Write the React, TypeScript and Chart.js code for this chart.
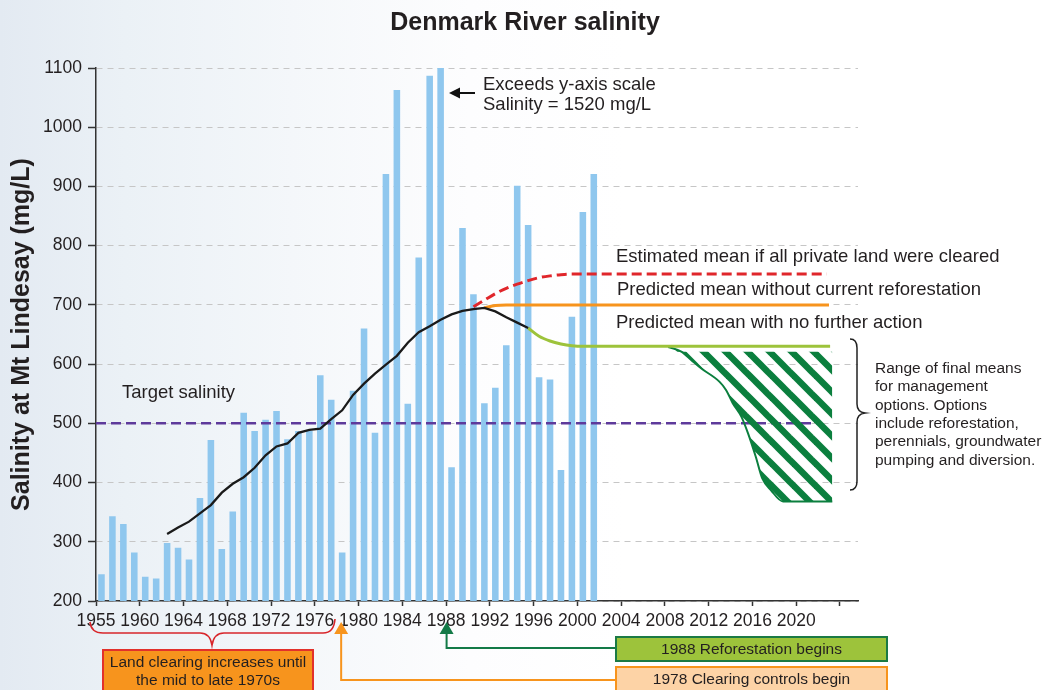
import React, { useEffect, useRef } from 'react';
import { Chart, registerables } from 'chart.js';

Chart.register(...registerables);

const FONT = "'Liberation Sans', Arial, Helvetica, sans-serif";

const chartTitle = 'Denmark River salinity';
const yAxisTitle = 'Salinity at Mt Lindesay (mg/L)';

// Annual salinity (mg/L), one bar per year
const barYears = [
  1956, 1957, 1958, 1959, 1960, 1961, 1962, 1963, 1964, 1965, 1966, 1967, 1968, 1969, 1970, 1971,
  1972, 1973, 1974, 1975, 1976, 1977, 1978, 1979, 1980, 1981, 1982, 1983, 1984, 1985, 1986, 1987,
  1988, 1989, 1990, 1991, 1992, 1993, 1994, 1995, 1996, 1997, 1998, 1999, 2000, 2001,
];
const salinityValues = [
  245, 343, 330, 282, 241, 238, 298, 290, 270, 374, 472, 288, 351, 518, 487, 506,
  521, 473, 487, 487, 581, 540, 282, 555, 660, 484, 921, 1063, 533, 780, 1087, 1520,
  426, 830, 718, 534, 560, 632, 901, 835, 578, 574, 421, 680, 857, 921,
];

// Running mean (black line)
const trendYears = [
  1962, 1963, 1964, 1965, 1966, 1967, 1968, 1969, 1970, 1971, 1972, 1973, 1974, 1975, 1976, 1977,
  1978, 1979, 1980, 1981, 1982, 1983, 1984, 1985, 1986, 1987, 1988, 1989, 1990, 1991, 1992, 1993,
  1994, 1995,
];
const trendValues = [
  313, 324, 334, 348, 362, 383, 398, 409, 425, 446, 461, 466, 484, 489, 491, 507,
  522, 548, 567, 584, 599, 614, 636, 654, 664, 675, 684, 690, 693, 695, 689, 679,
  670, 661,
];

// Estimated mean if all private land were cleared (red dashed)
const clearedYears = [1990, 1991, 1992, 1993, 1994, 1995, 1996, 1997, 1998, 1999, 2000, 2022.3];
const clearedValues = [697, 708, 719, 728, 735, 741, 746, 749, 751, 752, 752, 752];

// Predicted mean without current reforestation (orange)
const noReforestYears = [1991, 1992, 1993, 1994, 2022.5];
const noReforestValues = [695, 699, 700, 700, 700];

// Predicted mean with no further action (light green)
const noActionYears = [1995, 1996, 1997, 1998, 1999, 2000, 2022.6];
const noActionValues = [661, 647, 639, 634, 631, 630, 630];

// Target salinity (purple dashed)
const targetYears = [1955.5, 2021.8];
const targetValues = [500, 500];

// Range of final means for management options (hatched area outline)
const rangeYears = [2007.8, 2009.0, 2009.9, 2010.8, 2012.5, 2013.1, 2013.7, 2014.5, 2015.1, 2015.8, 2016.4, 2017.2, 2018.3, 2022.8];
const rangeValues = [629, 621, 607, 593, 570, 556, 534, 511, 483, 444, 407, 387, 368, 368];

// X axis ticks and their labels
const xTickYears = [1956, 1960, 1964, 1968, 1972, 1976, 1980, 1984, 1988, 1992, 1996, 2000, 2004, 2008, 2012, 2016, 2020, 2024];
const xTickLabels = ['1955', '1960', '1964', '1968', '1972', '1976', '1980', '1984', '1988', '1992', '1996', '2000', '2004', '2008', '2012', '2016', '2020', ''];

const rangeNoteLines = [
  'Range of final means',
  'for management',
  'options. Options',
  'include reforestation,',
  'perennials, groundwater',
  'pumping and diversion.',
];

const toX = (year: number) => year + 0.5; // centre of the year's slot
const pts = (years: number[], values: number[]) => years.map((y, i) => ({ x: toX(y), y: values[i] }));

const TEXT = '#231f20';
const HATCH = '#0b7f3e';

function makeStripePattern(ctx: CanvasRenderingContext2D) {
  const s = 22;
  const c = document.createElement('canvas');
  c.width = s;
  c.height = s;
  const g = c.getContext('2d')!;
  g.strokeStyle = HATCH;
  g.lineWidth = 6.5;
  for (const off of [-s, 0, s]) {
    g.beginPath();
    g.moveTo(off - 4, -4);
    g.lineTo(off + s + 4, s + 4);
    g.stroke();
  }
  return ctx.createPattern(c, 'repeat');
}

const annotationPlugin = {
  id: 'annotations',
  afterDraw(chart: any) {
    const { ctx } = chart;
    const xs = chart.scales.x;
    ctx.save();

    // Title
    ctx.fillStyle = TEXT;
    ctx.font = `bold 25px ${FONT}`;
    ctx.textAlign = 'center';
    ctx.textBaseline = 'middle';
    ctx.fillText(chartTitle, 525, 23);

    // Series labels
    ctx.font = `18.5px ${FONT}`;
    ctx.textAlign = 'left';
    ctx.fillText('Estimated mean if all private land were cleared', 616, 257);
    ctx.fillText('Predicted mean without current reforestation', 617, 290);
    ctx.fillText('Predicted mean with no further action', 616, 323);
    ctx.fillText('Target salinity', 122, 393);
    ctx.fillText('Exceeds y-axis scale', 483, 85);
    ctx.fillText('Salinity = 1520 mg/L', 483, 105);

    // Arrow to the off-scale bar
    ctx.strokeStyle = '#111';
    ctx.fillStyle = '#111';
    ctx.lineWidth = 2;
    ctx.beginPath();
    ctx.moveTo(475, 93);
    ctx.lineTo(457, 93);
    ctx.stroke();
    ctx.beginPath();
    ctx.moveTo(449, 93);
    ctx.lineTo(460, 87.5);
    ctx.lineTo(460, 98.5);
    ctx.closePath();
    ctx.fill();

    // Right brace and note
    ctx.strokeStyle = '#222';
    ctx.lineWidth = 1.5;
    ctx.beginPath();
    ctx.moveTo(850, 339);
    ctx.quadraticCurveTo(857, 339, 857, 348);
    ctx.lineTo(857, 404);
    ctx.quadraticCurveTo(857, 412, 865, 413);
    ctx.quadraticCurveTo(857, 414, 857, 422);
    ctx.lineTo(857, 481);
    ctx.quadraticCurveTo(857, 490, 850, 490);
    ctx.stroke();
    ctx.fillStyle = TEXT;
    ctx.font = `15.5px ${FONT}`;
    rangeNoteLines.forEach((t, i) => ctx.fillText(t, 875, 368.5 + i * 18.4));

    // Red brace under the x labels
    ctx.strokeStyle = '#d8262b';
    ctx.lineWidth = 1.6;
    ctx.beginPath();
    ctx.moveTo(90, 622);
    ctx.quadraticCurveTo(91, 633, 103, 633);
    ctx.lineTo(200, 633);
    ctx.quadraticCurveTo(210, 633, 212, 645);
    ctx.quadraticCurveTo(214, 633, 224, 633);
    ctx.lineTo(323, 633);
    ctx.quadraticCurveTo(334, 633, 335, 619);
    ctx.stroke();

    // Land clearing box
    ctx.fillStyle = '#f7941d';
    ctx.fillRect(103, 650, 210, 50);
    ctx.strokeStyle = '#e2312b';
    ctx.lineWidth = 2;
    ctx.strokeRect(103, 650, 210, 50);
    ctx.fillStyle = TEXT;
    ctx.font = `15.5px ${FONT}`;
    ctx.textAlign = 'center';
    ctx.fillText('Land clearing increases until', 208, 663);
    ctx.fillText('the mid to late 1970s', 208, 681);

    // Arrows from boxes to years
    const drawUpArrow = (x: number, yEnd: number, color: string) => {
      ctx.strokeStyle = color;
      ctx.fillStyle = color;
      ctx.lineWidth = 2;
      ctx.beginPath();
      ctx.moveTo(x, 632);
      ctx.lineTo(x, yEnd);
      ctx.lineTo(616, yEnd);
      ctx.stroke();
      ctx.beginPath();
      ctx.moveTo(x, 622);
      ctx.lineTo(x - 7, 634);
      ctx.lineTo(x + 7, 634);
      ctx.closePath();
      ctx.fill();
    };
    drawUpArrow(xs.getPixelForValue(1978.5) - 1, 680, '#f7941d');
    drawUpArrow(xs.getPixelForValue(1988) + 0.5, 648, '#137a47');

    // Reforestation box
    ctx.fillStyle = '#9dc33b';
    ctx.fillRect(616, 637, 271, 24);
    ctx.strokeStyle = '#1b7a45';
    ctx.lineWidth = 2;
    ctx.strokeRect(616, 637, 271, 24);
    ctx.fillStyle = TEXT;
    ctx.fillText('1988 Reforestation begins', 751.5, 649.5);

    // Clearing controls box
    ctx.fillStyle = '#fdd3a6';
    ctx.fillRect(616, 667, 271, 40);
    ctx.strokeStyle = '#f7941d';
    ctx.strokeRect(616, 667, 271, 40);
    ctx.fillStyle = TEXT;
    ctx.fillText('1978 Clearing controls begin', 751.5, 680);

    ctx.restore();
  },
};

export default function App() {
  const canvasRef = useRef<HTMLCanvasElement>(null);

  useEffect(() => {
    const canvas = canvasRef.current;
    if (!canvas) return;
    const ctx = canvas.getContext('2d')!;
    const pattern = makeStripePattern(ctx);

    const lineBase = { type: 'line' as const, pointRadius: 0, pointHoverRadius: 0, fill: false };

    const chart = new Chart(ctx, {
      type: 'bar',
      data: {
        datasets: [
          {
            ...lineBase,
            label: 'Running mean',
            data: pts(trendYears, trendValues),
            borderColor: '#1a1a1a',
            borderWidth: 2.3,
            tension: 0,
            order: 1,
          },
          {
            ...lineBase,
            label: 'Estimated mean if all private land were cleared',
            data: pts(clearedYears, clearedValues),
            borderColor: '#e0262b',
            borderWidth: 3,
            borderDash: [10, 5],
            cubicInterpolationMode: 'monotone',
            order: 2,
          },
          {
            ...lineBase,
            label: 'Predicted mean without current reforestation',
            data: pts(noReforestYears, noReforestValues),
            borderColor: '#f7941d',
            borderWidth: 3,
            cubicInterpolationMode: 'monotone',
            order: 2,
          },
          {
            ...lineBase,
            label: 'Predicted mean with no further action',
            data: pts(noActionYears, noActionValues),
            borderColor: '#9dc33b',
            borderWidth: 3,
            cubicInterpolationMode: 'monotone',
            order: 2,
          },
          {
            ...lineBase,
            label: 'Range of final means',
            data: pts(rangeYears, rangeValues),
            borderColor: HATCH,
            borderWidth: 2,
            cubicInterpolationMode: 'monotone',
            fill: { value: 621 },
            backgroundColor: pattern as any,
            order: 4,
          },
          {
            ...lineBase,
            label: 'Target salinity',
            data: pts(targetYears, targetValues),
            borderColor: '#5e3a9b',
            borderWidth: 2.5,
            borderDash: [10, 5],
            order: 5,
          },
          {
            type: 'bar' as const,
            label: 'Salinity',
            data: pts(barYears, salinityValues),
            backgroundColor: '#8fc7ee',
            borderWidth: 0,
            barPercentage: 0.6,
            categoryPercentage: 1,
            order: 10,
          },
        ] as any,
      },
      options: {
        animation: false,
        responsive: false,
        devicePixelRatio: 1,
        layout: { padding: { top: 68, right: 185, bottom: 0, left: 0 } },
        plugins: {
          legend: { display: false },
          tooltip: { enabled: false },
          title: { display: false },
        },
        scales: {
          x: {
            type: 'linear',
            min: 1956,
            max: 2025.65,
            offset: false,
            afterFit: (scale: any) => {
              scale.height = 89;
            },
            afterBuildTicks: (scale: any) => {
              scale.ticks = xTickYears.map((v) => ({ value: v }));
            },
            ticks: {
              autoSkip: false,
              maxRotation: 0,
              minRotation: 0,
              padding: 5,
              color: TEXT,
              font: { family: FONT, size: 17.5 },
              callback: (v: any) => {
                const i = xTickYears.indexOf(Math.round(Number(v)));
                return i >= 0 ? xTickLabels[i] : '';
              },
            },
            grid: {
              offset: false,
              drawOnChartArea: false,
              drawTicks: true,
              tickLength: 5,
              tickColor: '#333',
              tickWidth: 1.5,
            },
            border: { display: true, color: '#333', width: 1.5 },
          },
          y: {
            type: 'linear',
            min: 200,
            max: 1100,
            afterFit: (scale: any) => {
              scale.width = 96;
            },
            ticks: {
              stepSize: 100,
              padding: 6,
              color: TEXT,
              font: { family: FONT, size: 17.5 },
              callback: (v: any) => String(v),
            },
            grid: {
              color: '#c6c6c6',
              lineWidth: 1,
              tickLength: 8,
              tickColor: '#333',
              tickWidth: 1.5,
              tickBorderDash: [],
            },
            border: { display: true, color: '#333', width: 1.5, dash: [6, 5] },
            title: {
              display: true,
              text: yAxisTitle,
              color: TEXT,
              font: { family: FONT, size: 25, weight: 'bold' },
              padding: { top: 7, bottom: 0 },
            },
          },
        },
      },
      plugins: [annotationPlugin],
    } as any);

    return () => chart.destroy();
  }, []);

  return (
    <div
      style={{
        position: 'absolute',
        left: 0,
        top: 0,
        width: 1043,
        height: 690,
        overflow: 'hidden',
        background: 'linear-gradient(90deg, #e3eaf2 0%, #ebf1f6 12%, #f4f7fa 28%, #fdfdfe 45%, #ffffff 60%)',
      }}
    >
      <canvas ref={canvasRef} width={1043} height={690} style={{ display: 'block', width: 1043, height: 690 }} />
    </div>
  );
}
